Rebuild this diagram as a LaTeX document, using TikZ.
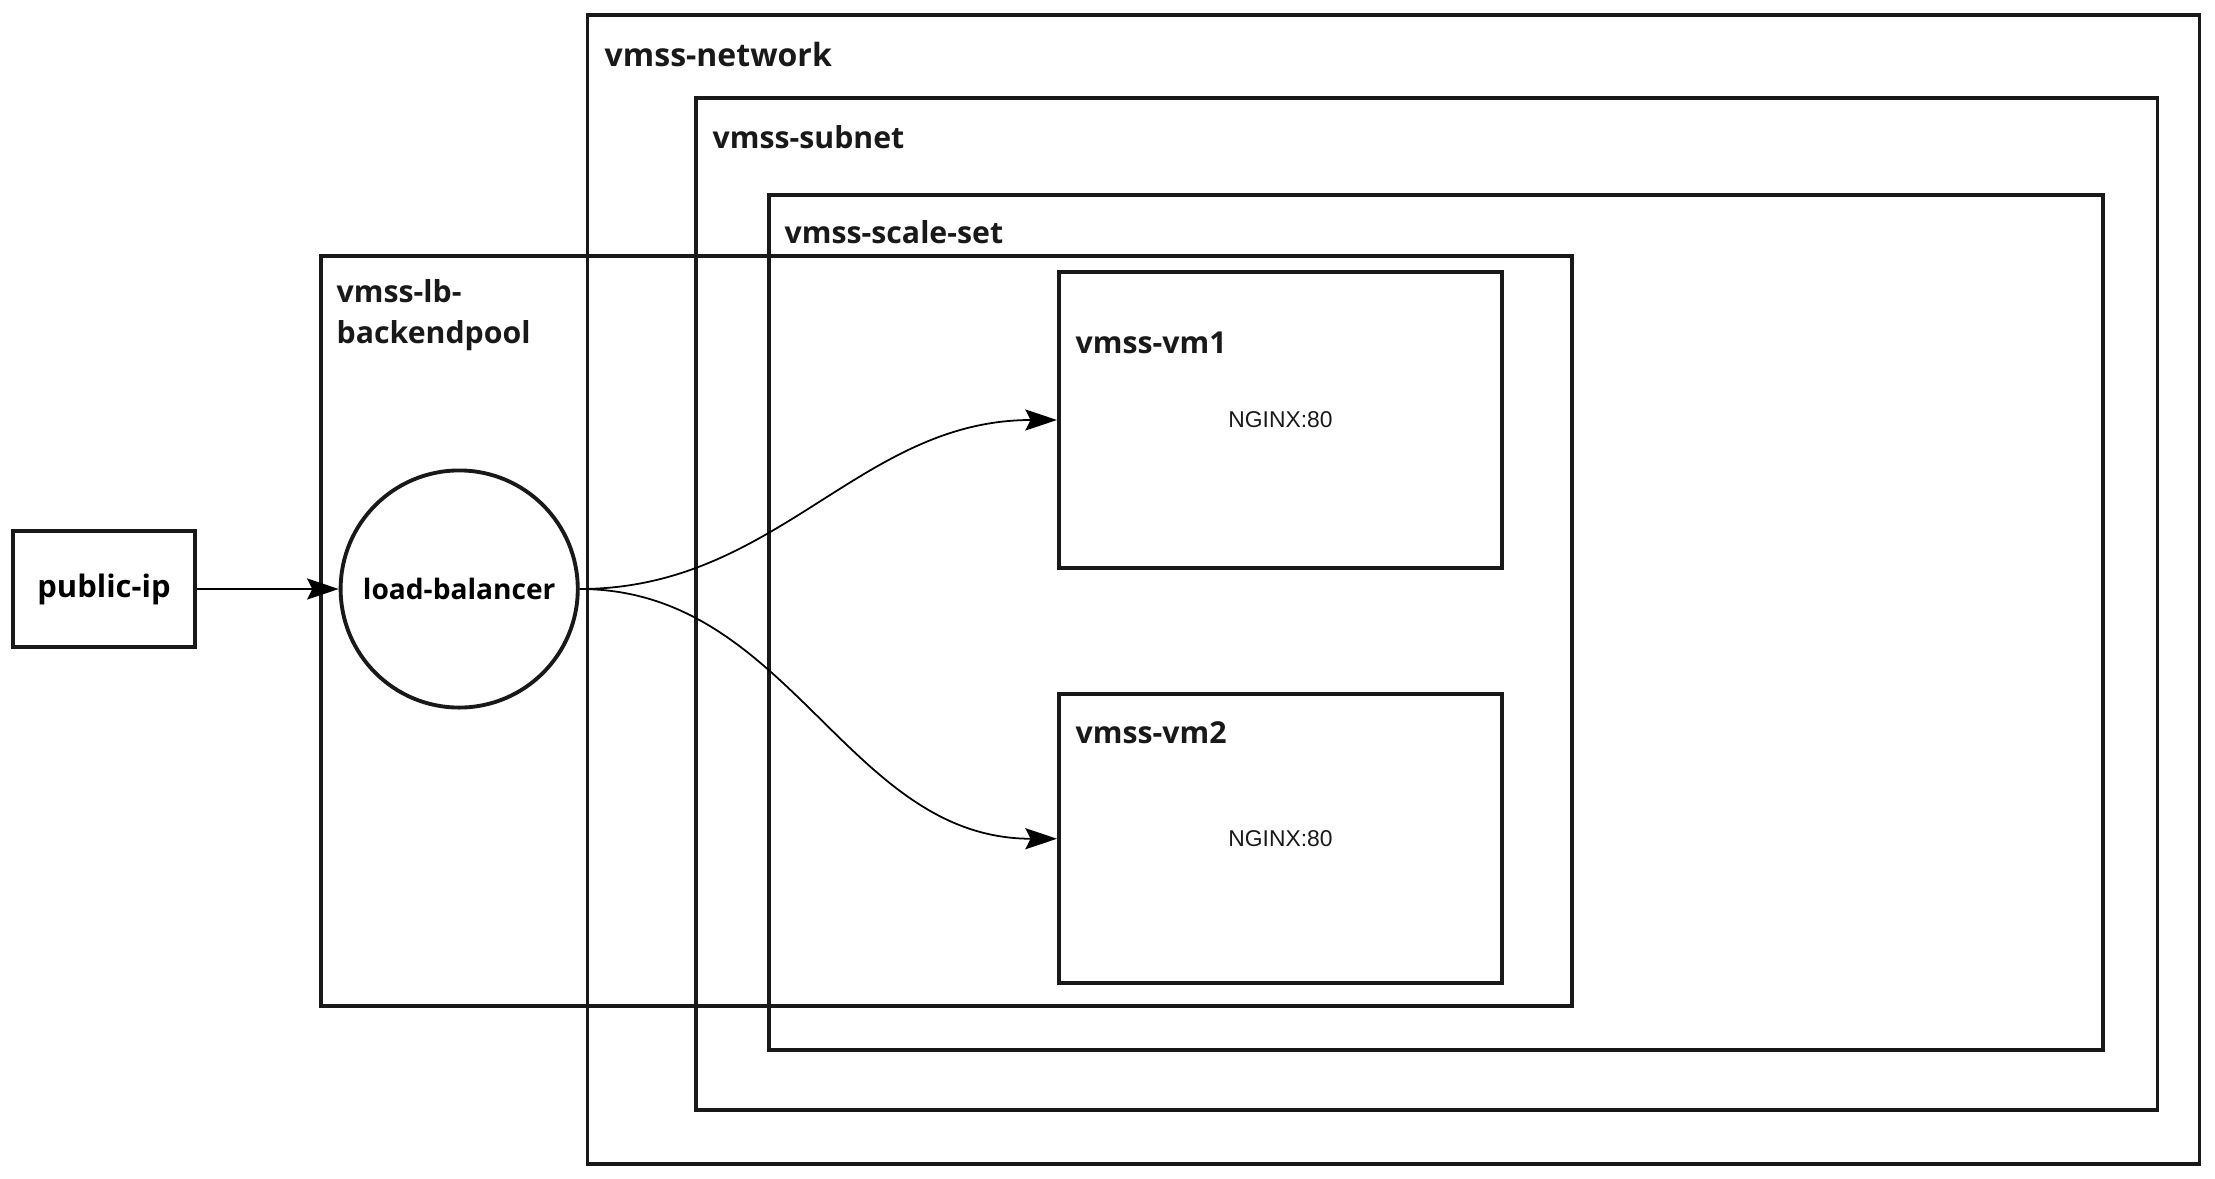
\documentclass[tikz,border=0pt]{standalone}
\usepackage{fontspec}
\setmainfont{Open Sans}
\newfontfamily\nginxfont{Liberation Sans}
\usetikzlibrary{positioning}
\usetikzlibrary{arrows.meta}

\begin{document}
\begin{tikzpicture}[x=0.01cm,y=-0.01cm,
  frame/.style={draw=black!90,line width=1.1pt,inner sep=0pt},
  lbl/.style={anchor=west,inner sep=0pt,align=left,font=\fontsize{8.6}{11.8}\selectfont\bfseries,text=black!90},
  svc/.style={inner sep=0pt,font=\nginxfont\fontsize{6.5}{8}\selectfont,text=black!90},
  arrow/.style={-{Stealth[length=9pt,width=6pt,inset=1.5pt]},draw=black,line width=0.5pt}]
\useasboundingbox (0,0) rectangle (2215,1179);

% Draw the containers
\node[frame,minimum width=16.11cm,minimum height=11.49cm](net) at (1393.5,589.5){};
\node[frame,minimum width=14.61cm,minimum height=10.12cm](subnet) at (1426.5,604){};
\node[frame,minimum width=13.34cm,minimum height=8.55cm](scaleset) at (1436,622.5){};
\node[frame,minimum width=12.51cm,minimum height=7.5cm](pool) at (946.5,631){};
\node[lbl,font=\fontsize{9.1}{12}\selectfont\bfseries](netlbl) at (604,55){vmss-network};
\node[lbl](subnetlbl) at (712,137){vmss-subnet};
\node[lbl](scalesetlbl) at (784,232){vmss-scale-set};
\node[lbl](poollbl) at (336,315){vmss-lb-\\backendpool};

% Draw the nodes used for the picture
\node[frame,minimum width=1.82cm,minimum height=1.16cm,font=\fontsize{8.8}{12}\selectfont\bfseries](pubip) at (104,589){public-ip};
\node[frame,circle,minimum size=2.37cm,right of=pubip,node distance=3.55cm,font=\fontsize{8}{11}\selectfont\bfseries](lb){load-balancer};
\node[frame,minimum width=4.43cm,minimum height=2.96cm](vm1) at (1280.5,420){};
\node[frame,minimum width=4.43cm,minimum height=2.89cm,below of=vm1,node distance=4.185cm](vm2){};
\node[lbl](vm1lbl) at (1075,343){vmss-vm1};
\node[lbl](vm2lbl) at (1075,733){vmss-vm2};
\node[svc](nginx1) at (vm1){NGINX:80};
\node[svc](nginx2) at (vm2){NGINX:80};

% Draw the edges between the nodes
\draw[arrow] (pubip) -- (lb);
\draw[arrow] (lb.east) to[out=0,in=180] (vm1.west);
\draw[arrow] (lb.east) to[out=0,in=180] (vm2.west);
\end{tikzpicture}
\end{document}
